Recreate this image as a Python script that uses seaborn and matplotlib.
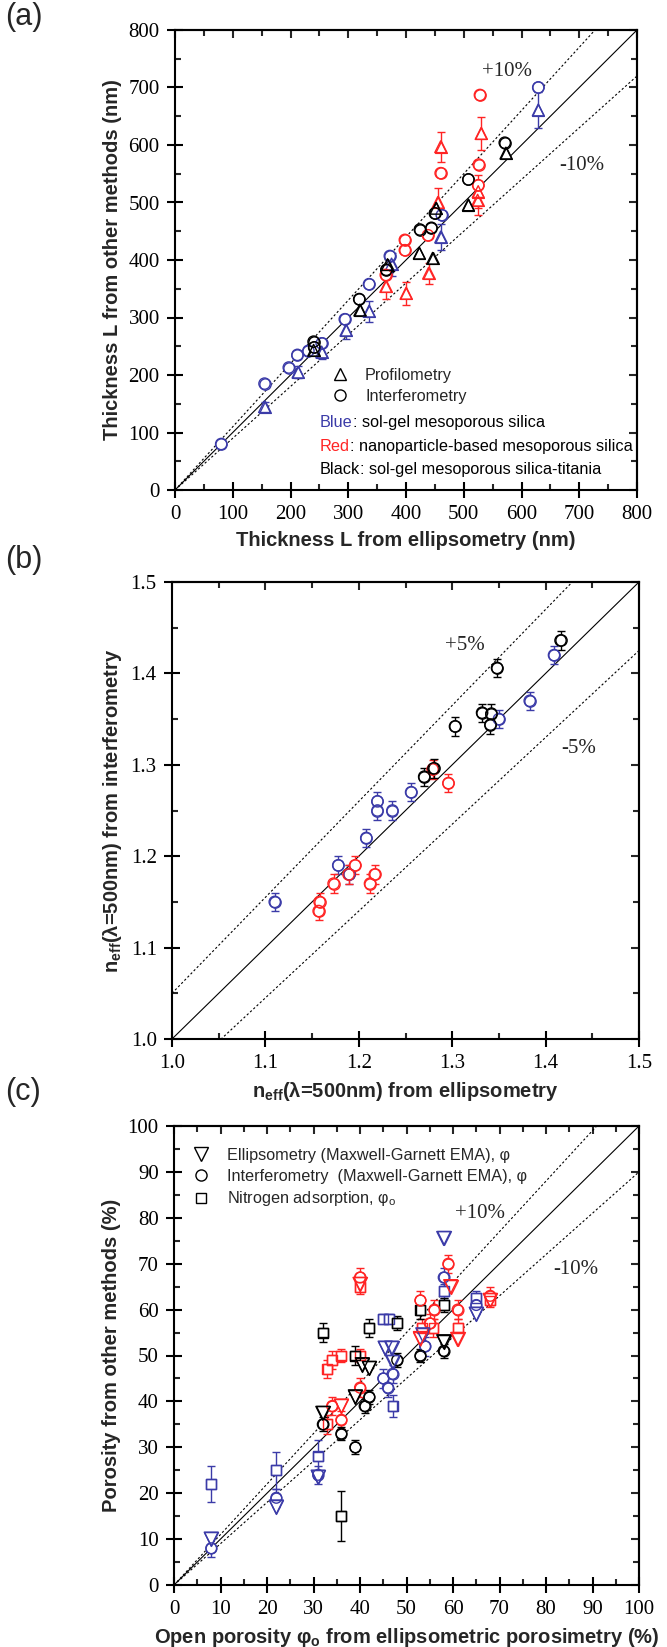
import numpy as np
import pandas as pd
import matplotlib
matplotlib.use("Agg")
import matplotlib.pyplot as plt
from matplotlib.lines import Line2D
from matplotlib.ticker import MultipleLocator, NullLocator
import seaborn as sns

sns.set_style("ticks")
plt.rcParams["font.family"] = ["Liberation Serif", "DejaVu Serif"]
plt.rcParams["mathtext.fontset"] = "custom"
plt.rcParams["mathtext.bf"] = "Liberation Sans:bold"
plt.rcParams["mathtext.rm"] = "Liberation Sans"
plt.rcParams["mathtext.it"] = "Liberation Sans:italic"

BLUE = "#3b3ba8"
RED = "#ff2424"
BLACK = "#000000"

# ---------------- Panel (a): thickness (nm) ----------------
a_blue_tri_x = [155, 213, 254, 296, 336, 375, 460, 629]
a_blue_tri_y = [145, 205, 240, 278, 311, 393, 440, 661]
a_blue_tri_err = [8, 11, 12, 16, 18, 20, 23, 32]
a_blue_cir_x = [80, 155, 197, 212, 231, 254, 294, 336, 372, 462, 629]
a_blue_cir_y = [80, 185, 213, 235, 242, 255, 297, 358, 407, 478, 700]
a_red_tri_x = [365, 400, 439, 455, 460, 524, 525, 530]
a_red_tri_y = [354, 342, 377, 500, 597, 504, 519, 620]
a_red_tri_err = [21, 20, 18, 25, 26, 26, 28, 28]
a_red_cir_x = [365, 398, 398, 438, 460, 525, 526, 528]
a_red_cir_y = [374, 417, 435, 443, 551, 530, 566, 687]
a_blk_tri_x = [240, 320, 368, 423, 446, 452, 508, 573]
a_blk_tri_y = [243, 313, 392, 412, 403, 490, 496, 586]
a_blk_cir_x = [240, 241, 319, 366, 424, 444, 450, 508, 571]
a_blk_cir_y = [258, 248, 332, 383, 453, 456, 481, 540, 604]

# ---------------- Panel (b): effective index ----------------
b_blue_x = [1.110, 1.178, 1.190, 1.208, 1.220, 1.220, 1.236, 1.256, 1.350, 1.383, 1.409]
b_blue_y = [1.150, 1.190, 1.180, 1.220, 1.260, 1.250, 1.250, 1.270, 1.350, 1.370, 1.420]
b_blue_err = [0.01, 0.01, 0.01, 0.01, 0.01, 0.01, 0.01, 0.01, 0.01, 0.01, 0.01]
b_red_x = [1.157, 1.158, 1.173, 1.189, 1.196, 1.212, 1.217, 1.279, 1.296]
b_red_y = [1.140, 1.150, 1.170, 1.180, 1.190, 1.170, 1.180, 1.295, 1.280]
b_red_err = [0.01, 0.01, 0.01, 0.01, 0.01, 0.01, 0.01, 0.01, 0.01]
b_blk_x = [1.270, 1.280, 1.303, 1.332, 1.342, 1.341, 1.348, 1.416]
b_blk_y = [1.287, 1.296, 1.342, 1.357, 1.356, 1.344, 1.406, 1.436]
b_blk_err = [0.01, 0.01, 0.01, 0.01, 0.01, 0.01, 0.01, 0.01]

# ---------------- Panel (c): porosity (%) ----------------
c_blue_tri_x = [8, 22, 31, 45.4, 46.8, 47, 53.5, 58, 65]
c_blue_tri_y = [10, 17, 23.5, 51.6, 51.6, 48.5, 54.5, 75.5, 59]
c_blue_cir_x = [8, 22, 31, 45, 46, 47, 54, 58, 65]
c_blue_cir_y = [8, 19, 24, 45, 43, 46, 52, 67, 61]
c_blue_cir_err = [2, 2, 2, 2, 2, 2, 2, 2, 2]
c_blue_sq_x = [8, 22, 31, 45, 46.2, 47, 58, 65]
c_blue_sq_y = [22, 25, 28, 58, 58, 39, 64, 62.5]
c_blue_sq_err = [4, 4, 3.5, 1, 1, 2.5, 1.5, 1.5]
c_red_tri_x = [36, 40, 53, 59.5, 61, 68]
c_red_tri_y = [39, 65.5, 53.7, 65, 53.5, 62]
c_red_cir_x = [34, 36, 40, 40, 53, 55, 56, 59, 61, 68]
c_red_cir_y = [39, 36, 67, 43, 62, 57, 60, 70, 60, 63]
c_red_cir_err = [2, 2, 2, 2, 2, 2, 2, 2, 2, 2]
c_red_sq_x = [33, 33, 34, 36, 40, 40, 53.3, 55.8, 61, 68]
c_red_sq_y = [35, 47, 49, 50, 50, 65, 56, 56, 56, 62]
c_red_sq_err = [2, 2, 2, 1.5, 1.5, 1.5, 2, 2, 2, 1.5]
c_blk_tri_x = [32, 39, 40.5, 42, 58]
c_blk_tri_y = [37.4, 41, 48, 47.2, 53]
c_blk_cir_x = [32, 36, 39, 41, 42, 48, 53, 58]
c_blk_cir_y = [35, 33, 30, 39, 41, 49, 50, 51]
c_blk_cir_err = [1.5, 1.5, 1.5, 1.5, 1.5, 1.5, 1.5, 1.5]
c_blk_sq_x = [32, 36, 39, 42, 48, 53, 58]
c_blk_sq_y = [55, 15, 50, 56, 57, 60, 61]
c_blk_sq_err = [2, 5.5, 2, 2, 1.5, 2, 1.5]

fig = plt.figure(figsize=(6.67, 16.47), dpi=100)
W, H = 667.0, 1647.0
serif = ["Liberation Serif", "DejaVu Serif"]
sans = ["Liberation Sans", "DejaVu Sans"]


def add_ax(l, r, t, b):
    return fig.add_axes([l / W, 1 - b / H, (r - l) / W, (b - t) / H])


ax_a = add_ax(175, 637, 30, 490)
ax_b = add_ax(172, 639, 582, 1039)
ax_c = add_ax(174, 639, 1126, 1585)


def draw_series(ax, x, y, err, color, marker, size):
    df = pd.DataFrame({"x": x, "y": y})
    if err is not None:
        ax.errorbar(x, y, yerr=err, fmt="none", ecolor=color, elinewidth=1.0,
                    capsize=3, capthick=1.0, zorder=2)
    sns.scatterplot(data=df, x="x", y="y", ax=ax, marker=marker, s=size,
                    color="white", edgecolor=color, linewidth=1.0, zorder=3,
                    legend=False)
    sns.scatterplot(data=df, x="x", y="y", ax=ax, marker=marker, s=size,
                    color=color, facecolor="none", edgecolor=color,
                    linewidth=1.0, zorder=4, legend=False)


def ref_lines(ax, lo, hi, kind):
    xs = np.linspace(lo, hi, 50)
    ax.plot(xs, xs, color="k", lw=0.8, zorder=1)
    f = 0.1 if kind == "pct" else 0.05
    ax.plot(xs, (1 + f) * xs, color="k", lw=0.8, dashes=(2, 2), zorder=1)
    ax.plot(xs, (1 - f) * xs, color="k", lw=0.8, dashes=(2, 2), zorder=1)


def style_axes(ax, lo, hi, major, minor, xlabel, ylabel):
    ax.set_xlim(lo, hi)
    ax.set_ylim(lo, hi)
    for axis in (ax.xaxis, ax.yaxis):
        axis.set_major_locator(MultipleLocator(major))
        axis.set_minor_locator(MultipleLocator(minor))
    ax.tick_params(which="major", direction="inout", length=12, width=1.5,
                   top=False, right=False, labelsize=15, pad=5, colors="k",
                   labelfontfamily="Liberation Serif")
    ax.tick_params(which="minor", direction="in", length=4, width=1.5,
                   top=True, right=True)
    for s in ax.spines.values():
        s.set_linewidth(1.5)
        s.set_color("k")
        s.set_visible(True)
    ticks = np.arange(lo, hi + major / 2, major)
    sx = ax.secondary_xaxis("top")
    sx.set_xticks(ticks)
    sx.xaxis.set_minor_locator(NullLocator())
    sx.tick_params(direction="in", length=6, width=1.5, labeltop=False)
    sx.spines["top"].set_linewidth(1.5)
    sy = ax.secondary_yaxis("right")
    sy.set_yticks(ticks)
    sy.yaxis.set_minor_locator(NullLocator())
    sy.tick_params(direction="in", length=6, width=1.5, labelright=False)
    sy.spines["right"].set_linewidth(1.5)
    lp = dict(family=sans, weight="bold", size=14.5)
    ax.set_xlabel(xlabel, fontdict=lp, labelpad=5)
    ax.set_ylabel(ylabel, fontdict=lp, labelpad=5)


# ----- Panel (a) -----
ref_lines(ax_a, 0, 800, "pct")
draw_series(ax_a, a_blue_tri_x, a_blue_tri_y, a_blue_tri_err, BLUE, "^", 72)
draw_series(ax_a, a_blue_cir_x, a_blue_cir_y, None, BLUE, "o", 66)
draw_series(ax_a, a_red_tri_x, a_red_tri_y, a_red_tri_err, RED, "^", 72)
draw_series(ax_a, a_red_cir_x, a_red_cir_y, None, RED, "o", 66)
draw_series(ax_a, a_blk_tri_x, a_blk_tri_y, None, BLACK, "^", 72)
draw_series(ax_a, a_blk_cir_x, a_blk_cir_y, None, BLACK, "o", 66)
style_axes(ax_a, 0, 800, 100, 50, "Thickness L from ellipsometry (nm)",
           "Thickness L from other methods (nm)")
ax_a.text(575, 727, "+10%", fontsize=15, family=serif, ha="center", va="center")
ax_a.text(705, 565, "-10%", fontsize=15, family=serif, ha="center", va="center")
h_a = [Line2D([], [], ls="none", marker="^", ms=8.5, mfc="none", mec="k", mew=1),
       Line2D([], [], ls="none", marker="o", ms=8, mfc="none", mec="k", mew=1)]
ax_a.legend(h_a, ["Profilometry", "Interferometry"], loc="upper left",
            bbox_to_anchor=(0.3325, 0.265), frameon=False, borderpad=0,
            borderaxespad=0, handlelength=1.4, handletextpad=0.84,
            labelspacing=0.35, prop={"family": sans, "size": 11.7})
for (word, rest, col, yv) in [("Blue", ": sol-gel mesoporous silica", BLUE, 117),
                              ("Red", ": nanoparticle-based mesoporous silica", RED, 76.5),
                              ("Black", ": sol-gel mesoporous silica-titania", BLACK, 36)]:
    t = ax_a.text(251, yv, word, color=col, fontsize=11.7, family=sans,
                  ha="left", va="center")
    ax_a.annotate(rest, xy=(1, 0), xycoords=t, ha="left", va="bottom",
                  fontsize=11.7, family=sans, color="k")

# ----- Panel (b) -----
ref_lines(ax_b, 1.0, 1.5, "five")
draw_series(ax_b, b_blue_x, b_blue_y, b_blue_err, BLUE, "o", 66)
draw_series(ax_b, b_red_x, b_red_y, b_red_err, RED, "o", 66)
draw_series(ax_b, b_blk_x, b_blk_y, b_blk_err, BLACK, "o", 66)
style_axes(ax_b, 1.0, 1.5, 0.1, 0.05,
           r"$\mathbf{n_{eff}}$(λ=500nm) from ellipsometry",
           r"$\mathbf{n_{eff}}$(λ=500nm) from interferometry")
ax_b.text(1.314, 1.43, "+5%", fontsize=15, family=serif, ha="center", va="center")
ax_b.text(1.435, 1.318, "-5%", fontsize=15, family=serif, ha="center", va="center")

# ----- Panel (c) -----
ref_lines(ax_c, 0, 100, "pct")
draw_series(ax_c, c_blue_sq_x, c_blue_sq_y, c_blue_sq_err, BLUE, "s", 50)
draw_series(ax_c, c_red_sq_x, c_red_sq_y, c_red_sq_err, RED, "s", 50)
draw_series(ax_c, c_blk_sq_x, c_blk_sq_y, c_blk_sq_err, BLACK, "s", 50)
draw_series(ax_c, c_blue_cir_x, c_blue_cir_y, c_blue_cir_err, BLUE, "o", 60)
draw_series(ax_c, c_red_cir_x, c_red_cir_y, c_red_cir_err, RED, "o", 60)
draw_series(ax_c, c_blk_cir_x, c_blk_cir_y, c_blk_cir_err, BLACK, "o", 60)
draw_series(ax_c, c_blue_tri_x, c_blue_tri_y, None, BLUE, "v", 100)
draw_series(ax_c, c_red_tri_x, c_red_tri_y, None, RED, "v", 100)
draw_series(ax_c, c_blk_tri_x, c_blk_tri_y, None, BLACK, "v", 100)
style_axes(ax_c, 0, 100, 10, 5,
           r"Open porosity φ$_\mathbf{o}$ from ellipsometric porosimetry (%)",
           "Porosity from other methods (%)")
ax_c.text(65.8, 81, "+10%", fontsize=15, family=serif, ha="center", va="center")
ax_c.text(86.5, 68.8, "-10%", fontsize=15, family=serif, ha="center", va="center")
h_c = [Line2D([], [], ls="none", marker="v", ms=10, mfc="none", mec="k", mew=1),
       Line2D([], [], ls="none", marker="o", ms=8, mfc="none", mec="k", mew=1),
       Line2D([], [], ls="none", marker="s", ms=7, mfc="none", mec="k", mew=1)]
ax_c.legend(h_c, ["Ellipsometry (Maxwell-Garnett EMA), φ",
                  "Interferometry  (Maxwell-Garnett EMA), φ",
                  r"Nitrogen adsorption, φ$_\mathrm{o}$"],
            loc="upper left", bbox_to_anchor=(0.0335, 0.952), frameon=False,
            borderpad=0, borderaxespad=0, handlelength=1.4, handletextpad=0.9,
            labelspacing=0.35, prop={"family": sans, "size": 11.7})

# panel letters
for lab, ypx in [("(a)", 17), ("(b)", 560), ("(c)", 1092)]:
    fig.text(5 / W, 1 - ypx / H, lab, fontsize=22, family=sans,
             ha="left", va="center")

fig.savefig("out.png", dpi=100)
